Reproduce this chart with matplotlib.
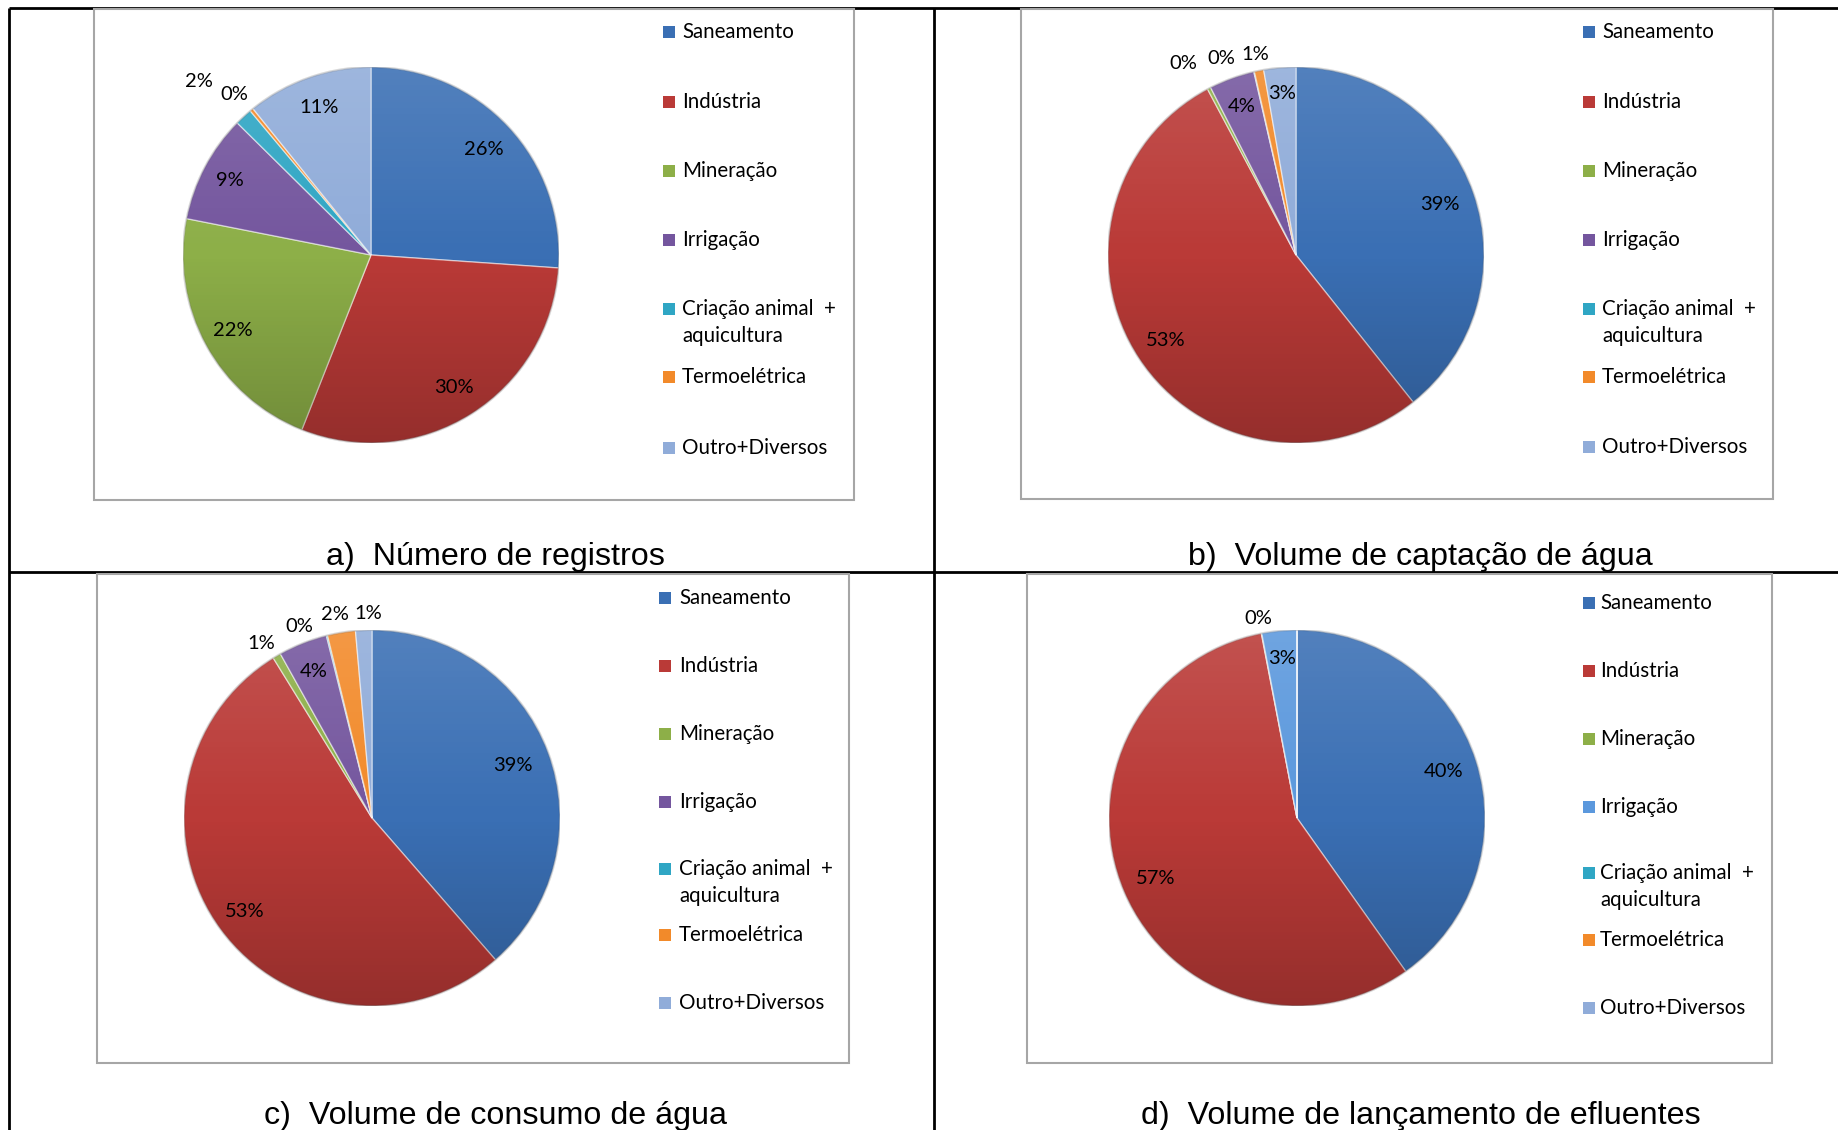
import numpy as np
import matplotlib.pyplot as plt
from matplotlib.patches import Rectangle, Circle

W, H = 1838, 1130

# dados (percentuais)
setores = ['Saneamento', 'Indústria', 'Mineração', 'Irrigação',
           'Criação animal  +\naquicultura', 'Termoelétrica', 'Outro+Diversos']
registros = [26.1, 29.9, 22.1, 9.3, 1.5, 0.3, 10.8]
captacao = [39.3, 52.9, 0.3, 3.9, 0.05, 0.8, 2.75]
consumo = [38.6, 52.6, 0.7, 4.2, 0.1, 2.4, 1.4]
lancamento = [40.2, 56.8, 0.04, 3.0, 0.0, 0.0, 0.0]
titulos = ['a)  Número de registros', 'b)  Volume de captação de água',
           'c)  Volume de consumo de água', 'd)  Volume de lançamento de efluentes']

cores = ['#3A6FB4', '#BA3A37', '#8DAF48', '#74569E', '#2FA6C4', '#F28A2A', '#90ACD9']
cores_d = ['#3A6FB4', '#BA3A37', '#8DAF48', '#5B98DD', '#2FA6C4', '#F28A2A', '#90ACD9']

# posicao dos rotulos (raio relativo, ajuste angular em graus)
rot_r = [[0.82, 0.83, 0.84, 0.85, 1.30, 1.12, 0.83],
         [0.81, 0.83, 1.18, 0.84, 1.12, 1.09, 0.86],
         [0.80, 0.84, 1.10, 0.84, 1.09, 1.10, 1.09],
         [0.82, 0.82, 1.08, 0.85, None, None, None]]
rot_dt = [[0, 0, 0, 0, 2, 1, 0],
          [0, 0, 3, 0, 8, 0, 0],
          [0, 0, 2, 0, 7, 1, -1.4],
          [0, 0, 0, 0, 0, 0, 0]]

# layout em pixels
caixas = [(94, 9, 854, 500), (1021, 9, 1773, 499), (97, 574, 849, 1063), (1027, 574, 1772, 1063)]
centros = [(371, 255), (1296, 255), (372, 818), (1297, 818)]
raio = 188
leg_x = [(663, 682), (1583, 1602), (659, 679), (1583, 1600)]
leg_y = [[32, 102, 171, 240, 309, 377, 448],
         [32, 102, 171, 240, 309, 377, 447],
         [598, 666, 734, 802, 869, 935, 1003],
         [603, 671, 739, 807, 873, 940, 1008]]
tit_pos = [(495, 565), (1420, 565), (496, 1124), (1421, 1124)]

fig = plt.figure(figsize=(W / 100, H / 100), dpi=100)
base = fig.add_axes([0, 0, 1, 1])
base.set_xlim(0, W)
base.set_ylim(H, 0)
base.axis('off')

# linhas da tabela
lk = dict(color='black', lw=2, solid_capstyle='butt')
base.plot([9, W], [8, 8], **lk)
base.plot([9, 9], [8, H], **lk)
base.plot([934, 934], [8, H], **lk)
base.plot([9, W], [572, 572], **lk)

fonte = ['Lato', 'DejaVu Sans']
fonte_tit = ['Liberation Sans', 'DejaVu Sans']

todos = [registros, captacao, consumo, lancamento]
g = np.linspace(0, 1, 256)
sombra = np.zeros((256, 1, 4))
sombra[:, 0, :3] = np.where(g < 0.5, 1.0, 0.0)[:, None]
sombra[:, 0, 3] = np.abs(g - 0.5) * np.where(g < 0.5, 0.25, 0.4)

for k in range(4):
    x0, y0, x1, y1 = caixas[k]
    base.add_patch(Rectangle((x0, y0), x1 - x0, y1 - y0, facecolor='white',
                             edgecolor='#A6A6A6', lw=1.5, zorder=2))
    cx, cy = centros[k]
    ax = fig.add_axes([(cx - raio) / W, 1 - (cy + raio) / H, 2 * raio / W, 2 * raio / H])
    vals = todos[k]
    cc = cores_d if k == 3 else cores
    wedges, _ = ax.pie(vals, colors=cc, startangle=90, counterclock=False, radius=1,
                       wedgeprops=dict(edgecolor=(1, 1, 1, 0.5), linewidth=1))
    im = ax.imshow(sombra, extent=(-1, 1, -1, 1), aspect='auto', zorder=3)
    im.set_clip_path(Circle((0, 0), 1, transform=ax.transData))
    ax.add_patch(Circle((0, 0), 1, fill=False, edgecolor=(0, 0, 0, 0.15), lw=1.5, zorder=4))
    ax.set_xlim(-1, 1)
    ax.set_ylim(-1, 1)
    ax.set_aspect('equal')
    ax.axis('off')
    total = sum(vals)
    for i, w in enumerate(wedges):
        r = rot_r[k][i]
        if r is None:
            continue
        ang = np.deg2rad((w.theta1 + w.theta2) / 2 + rot_dt[k][i])
        pct = int(round(vals[i] / total * 100))
        ax.text(r * np.cos(ang), r * np.sin(ang), f'{pct}%', ha='center', va='center',
                fontsize=14.5, family=fonte, zorder=5, clip_on=False)

    # legenda
    sx, tx = leg_x[k]
    for i, nome in enumerate(setores):
        y = leg_y[k][i]
        base.add_patch(Rectangle((sx, y - 6), 12, 12, facecolor=cc[i],
                                 edgecolor='none', zorder=3))
        linhas = nome.split('\n')
        for j, ln in enumerate(linhas):
            base.text(tx, y + j * 27, ln, ha='left', va='center', fontsize=14.8,
                      family=fonte, zorder=3)

    tx_, ty_ = tit_pos[k]
    base.text(tx_, ty_, titulos[k], ha='center', va='baseline', fontsize=23.2,
              family=fonte_tit, zorder=3)

fig.savefig('out.png', dpi=100)
